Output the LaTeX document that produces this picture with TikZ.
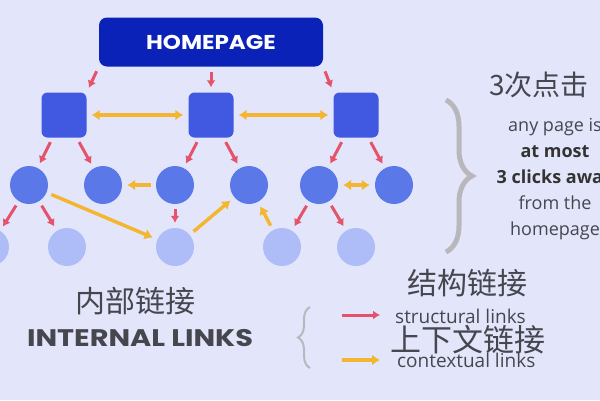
\documentclass[tikz,border=0pt]{standalone}
\usepackage{fontspec}
\setmainfont{Open Sans}
\newfontfamily\pop{Poppins}
\newfontfamily\cjk{Noto Sans CJK SC}
\usetikzlibrary{arrows.meta,positioning,decorations.pathreplacing}

\definecolor{bgcol}{HTML}{E3E6FA}
\definecolor{homeblue}{HTML}{0B22B8}
\definecolor{sqblue}{HTML}{4158E1}
\definecolor{midblue}{HTML}{5B78E9}
\definecolor{lightblue}{HTML}{AEBCF7}
\definecolor{linkred}{HTML}{E5536B}
\definecolor{linkyel}{HTML}{F4B631}
\definecolor{txtgray}{HTML}{46464E}
\definecolor{bracegray}{HTML}{B8B8BC}

\begin{document}
\begin{tikzpicture}
                    [x=1pt, y=-1pt, every node/.style={inner sep=0pt}]
                    \tikzset{edge/.style = {> = {Latex[length=7pt,width=9pt]}, ->, draw=linkred, line width=3pt, shorten >=5pt, shorten <=5pt}}
                    \tikzset{ctx/.style = {> = {Latex[length=8pt,width=11pt]}, draw=linkyel, line width=3.5pt, shorten >=5pt, shorten <=5pt}}
                    \tikzset{page/.style = {rounded corners=6pt, fill=sqblue, minimum size=45pt}}
                    \tikzset{lvlone/.style = {circle, fill=midblue, minimum size=38pt}}
                    \tikzset{lvltwo/.style = {circle, fill=lightblue, minimum size=38pt}}
                    \clip (0,0) rectangle (600,400);
                    \fill[bgcol] (0,0) rectangle (600,400);

                    \node[rounded corners=8pt, fill=homeblue, minimum width=224pt, minimum height=49pt] (h) at (211,42) {};
                    \node[text=white, font=\pop\bfseries\fontsize{20}{24}\selectfont, xscale=1.15, anchor=base] (hl) at (211,49) {HOMEPAGE};
                    \node[page] (s1) at (64,115)  {};
                    \node[page] (s2) at (211,115) {};
                    \node[page] (s3) at (356,115) {};
                    \node[lvlone] (c1) at (29,185)  {};
                    \node[lvlone] (c2) at (103,185) {};
                    \node[lvlone] (c3) at (175,185) {};
                    \node[lvlone] (c4) at (249,185) {};
                    \node[lvlone] (c5) at (319,185) {};
                    \node[lvlone] (c6) at (394,185) {};
                    \node[lvltwo] (d1) at (-10,247) {};
                    \node[lvltwo] (d2) at (67,247)  {};
                    \node[lvltwo] (d3) at (175,247) {};
                    \node[lvltwo] (d4) at (282,247) {};
                    \node[lvltwo] (d5) at (356,247) {};

                    \foreach \from/\to in {h.south west/s1.north east,h/s2,h.south east/s3.north west,
                                           s1/c1,s1/c2,s2/c3,s2/c4,s3/c5,s3/c6,c1/d1,c1/d2,c3/d3,c5/d4,c5/d5}
                        \draw[edge] (\from) to (\to);
                    \foreach \from/\to in {s1/s2,s2/s3,c5/c6}
                        \draw[ctx,<->] (\from) to (\to);
                    \foreach \from/\to in {c3/c2,c1/d3,d3/c4,d4/c4}
                        \draw[ctx,->] (\from) to (\to);

                    % right side
                    \draw[bracegray, line width=5pt, decorate, decoration={brace, amplitude=26pt}] (446,100) -- (446,252);
                    \node[text=txtgray, font=\cjk\fontsize{28}{30}\selectfont, anchor=west] (clicks) at (489,85) {3次点击};
                    \begin{scope}[every node/.style={font=\fontsize{18}{20}\selectfont, anchor=base, text=txtgray}]
                    \node (r1) at (555,131) {any page is};
                    \node[font=\bfseries\fontsize{18}{20}\selectfont, text=black!80] (r2) at (555,157) {at most};
                    \node[font=\bfseries\fontsize{18}{20}\selectfont, text=black!80] (r3) at (555,183) {3 clicks away};
                    \node (r4) at (555,209) {from the};
                    \node (r5) at (555,235) {homepage};
                    \end{scope}

                    % legend
                    \node[text=txtgray, font=\cjk\fontsize{30}{34}\selectfont] (nbl) at (135,301) {内部链接};
                    \node[text=txtgray, font=\pop\bfseries\fontsize{24}{28}\selectfont, xscale=1.2, anchor=base] (il) at (140,346) {INTERNAL LINKS};
                    \draw[bracegray, line width=2pt, decorate, decoration={brace, amplitude=12pt}] (310,368) -- (310,307);
                    \coordinate (ra) at (338,315);
                    \coordinate (rb) at (384,315);
                    \coordinate (ya) at (338,360);
                    \coordinate (yb) at (384,360);
                    \draw[edge, shorten <=4pt, shorten >=4pt] (ra) to (rb);
                    \draw[ctx, ->, shorten <=4pt, shorten >=4pt] (ya) to (yb);
                    \node[text=txtgray, font=\cjk\fontsize{30}{34}\selectfont] (jg) at (467,283) {结构链接};
                    \node[text=txtgray, font=\fontsize{19}{22}\selectfont, anchor=base west] (sl) at (395,323) {structural links};
                    \node[text=txtgray, font=\cjk\fontsize{31}{34}\selectfont] (sx) at (468,340) {上下文链接};
                    \node[text=txtgray, font=\fontsize{19}{22}\selectfont, anchor=base west] (cl) at (397,367) {contextual links};
                \end{tikzpicture}
\end{document}
